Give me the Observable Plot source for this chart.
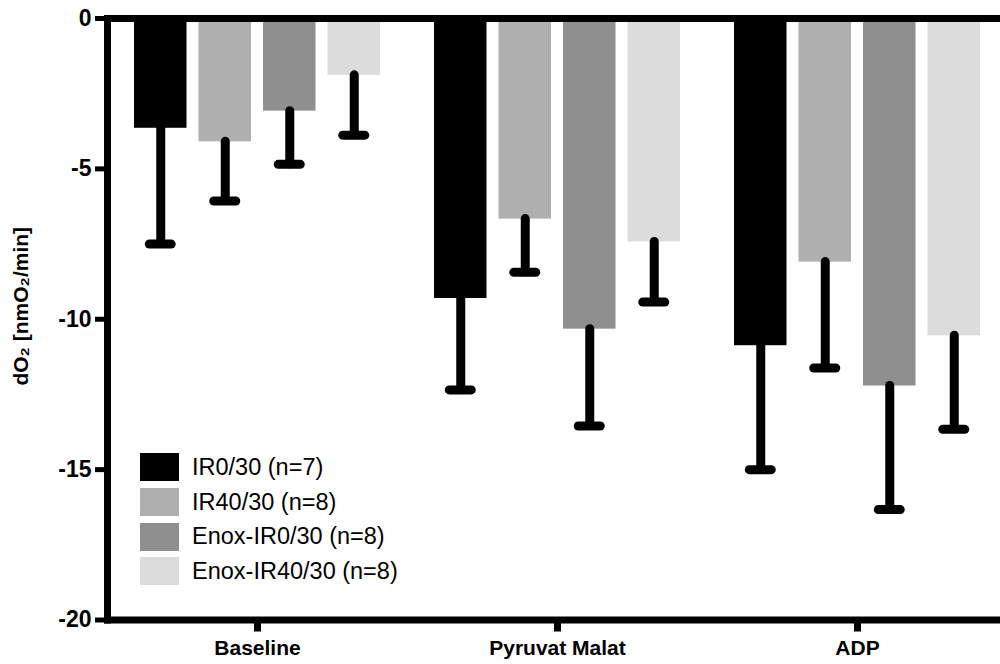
<!DOCTYPE html>
<html>
<head>
<meta charset="utf-8">
<script src="https://cdn.jsdelivr.net/npm/d3@7"></script>
<script src="https://cdn.jsdelivr.net/npm/@observablehq/plot@0.6"></script>
<style>
  html, body { margin: 0; padding: 0; background: white; overflow: hidden; }
  #wrap { position: relative; width: 1000px; height: 664px; }
  #legend { position: absolute; left: 140px; top: 450px; font-family: "Liberation Sans", Arial, Helvetica, sans-serif; font-size: 23.5px; color: #000; }
  .row { display: flex; align-items: center; height: 34.7px; }
  .sw { width: 39px; height: 28px; margin-right: 13px; }
</style>
</head>
<body>
<div id="wrap"><div id="legend"></div></div>
<script>
// ---- data ----
const groups = ["Baseline", "Pyruvat Malat", "ADP"];
const series = ["IR0/30 (n=7)", "IR40/30 (n=8)", "Enox-IR0/30 (n=8)", "Enox-IR40/30 (n=8)"];
const colors = ["#000000", "#afafaf", "#8f8f8f", "#dcdcdc"];
// mean dO2 per group (Baseline, Pyruvat Malat, ADP)
const meanIR0 = [-3.65, -9.31, -10.88];
const meanIR40 = [-4.10, -6.67, -8.10];
const meanEnoxIR0 = [-3.08, -10.33, -12.22];
const meanEnoxIR40 = [-1.89, -7.43, -10.55];
// error bar length (one-sided, downward)
const errIR0 = [3.85, 3.04, 4.12];
const errIR40 = [1.97, 1.77, 3.52];
const errEnoxIR0 = [1.77, 3.22, 4.11];
const errEnoxIR40 = [1.99, 2.00, 3.11];
const yTicks = [0, -5, -10, -15, -20];
const yLabel = "dO₂ [nmO₂/min]";

const means = [meanIR0, meanIR40, meanEnoxIR0, meanEnoxIR40];
const errs = [errIR0, errIR40, errEnoxIR0, errEnoxIR40];
const data = groups.flatMap((g, gi) => series.map((s, si) => ({group: g, series: s, mean: means[si][gi], err: errs[si][gi]})));

// ---- layout ----
const W = 1000, H = 664, ML = 107, MT = 18, MB = 44.5;
const xRange = [ML, ML + 900];
const bw = (xRange[1] - xRange[0]) / groups.length;
const barStep = 64.5, barW = 52.5, capLen = 22;
const barInset = (bw - barW) / 2;
const capInset = (bw - capLen) / 2;
const font = "'Liberation Sans', Arial, Helvetica, sans-serif";

const marks = [];
series.forEach((s, i) => {
  const sub = data.filter(d => d.series === s);
  const dx = (i - 1.5) * barStep;
  marks.push(Plot.barY(sub, {x: "group", y1: () => 0, y2: "mean", fill: "series", insetLeft: barInset, insetRight: barInset, dx}));
});
series.forEach((s, i) => {
  const sub = data.filter(d => d.series === s);
  const dx = (i - 1.5) * barStep;
  marks.push(Plot.ruleX(sub, {x: "group", y1: "mean", y2: d => d.mean - d.err, stroke: "#000", strokeWidth: 9, strokeLinecap: "round", dx}));
  marks.push(Plot.tickY(sub, {x: "group", y: d => d.mean - d.err, stroke: "#000", strokeWidth: 9, strokeLinecap: "round", insetLeft: capInset, insetRight: capInset, dx}));
});

const chart = Plot.plot({
  width: W, height: H,
  marginLeft: ML, marginRight: 0, marginTop: MT, marginBottom: MB,
  style: {fontFamily: font, color: "#000", background: "white", overflow: "visible"},
  x: {domain: groups, range: xRange, padding: 0, axis: null},
  y: {domain: [-20, 0], axis: null},
  color: {domain: series, range: colors},
  marks: [
    ...marks,
    Plot.ruleY([0], {stroke: "#000", strokeWidth: 7}),
    Plot.frame({anchor: "left", stroke: "#000", strokeWidth: 7, strokeLinecap: "square"}),
    Plot.frame({anchor: "bottom", stroke: "#000", strokeWidth: 7, strokeLinecap: "square"}),
    Plot.axisY({ticks: yTicks, tickSize: 12, strokeWidth: 5, tickPadding: 4, fontSize: 23, fontWeight: "bold", label: null, tickFormat: d => String(d)}),
    Plot.axisX({tickSize: 12, strokeWidth: 7, tickPadding: 8, fontSize: 21, fontWeight: "bold", label: null}),
    Plot.text([yLabel], {text: d => d, frameAnchor: "left", rotate: -90, dx: -86, dy: -13, fontSize: 21, fontWeight: "bold", lineAnchor: "middle", textAnchor: "middle"})
  ]
});

const wrap = document.getElementById("wrap");
wrap.insertBefore(chart, wrap.firstChild);

const legend = d3.select("#legend");
series.forEach((s, i) => {
  const row = legend.append("div").attr("class", "row");
  row.append("div").attr("class", "sw").style("background", colors[i]);
  row.append("span").text(s);
});
</script>
</body>
</html>
